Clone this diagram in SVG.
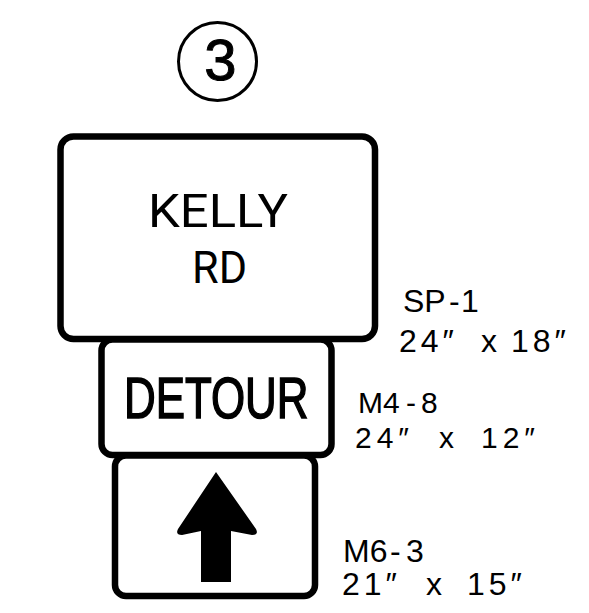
<svg xmlns="http://www.w3.org/2000/svg" width="589" height="613" viewBox="0 0 589 613">
<style>
.sign{fill:#fff;stroke:#000;stroke-width:6.5}
.lbl{font-family:"Liberation Sans",Arial,sans-serif;font-size:32px;fill:#000}
.dim{letter-spacing:4px}
.sm{font-size:30px}
.smd{font-size:30px;letter-spacing:5px}
</style>
<rect width="589" height="613" fill="#fff"/>
<g id="marker3">
<circle cx="217.5" cy="61.5" r="39" fill="none" stroke="#000" stroke-width="3"/>
<text x="220.5" y="80" text-anchor="middle" font-family="Liberation Sans,Arial,sans-serif" font-size="58" stroke="#000" stroke-width="1">3</text>
</g>
<g id="sp1">
<rect class="sign" x="60.5" y="136.5" width="314.5" height="202.5" rx="13"/>
<text x="218" y="227" text-anchor="middle" font-family="Roboto,sans-serif" font-size="47" textLength="140" lengthAdjust="spacingAndGlyphs">KELLY</text>
<text x="219.5" y="283" text-anchor="middle" font-family="Roboto,sans-serif" font-size="45" textLength="55" lengthAdjust="spacingAndGlyphs">RD</text>
</g>
<g id="m48">
<rect class="sign" x="101.5" y="339.5" width="230" height="115.5" rx="11"/>
<text transform="translate(124,418) scale(0.77,1)" x="0" y="0" font-family="Liberation Sans,Arial,sans-serif" font-size="57" stroke="#000" stroke-width="1.5">DETOUR</text>
</g>
<g id="m63">
<rect class="sign" x="115" y="455.5" width="200" height="140.5" rx="11"/>
<path d="M216,472 L256,529 Q259,535 252,535 L231,531 L231,582 L201,582 L201,531 L182,535 Q175,535 178,529 Z" fill="#000"/>
</g>
<g id="labels">
<text class="lbl" y="312"><tspan x="403">SP</tspan><tspan x="449">-</tspan><tspan x="461">1</tspan></text>
<text class="lbl dim" y="352"><tspan x="399">24″</tspan><tspan x="481">x</tspan><tspan x="511">18″</tspan></text>
<text class="lbl sm" y="413"><tspan x="358">M4</tspan><tspan x="406">-</tspan><tspan x="421">8</tspan></text>
<text class="lbl smd" y="448"><tspan x="355">24″</tspan><tspan x="439">x</tspan><tspan x="481">12″</tspan></text>
<text class="lbl" y="562"><tspan x="343">M6</tspan><tspan x="390">-</tspan><tspan x="406">3</tspan></text>
<text class="lbl dim" y="595"><tspan x="342">21″</tspan><tspan x="426">x</tspan><tspan x="467">15″</tspan></text>
</g>
<g id="connectors"></g>
</svg>
